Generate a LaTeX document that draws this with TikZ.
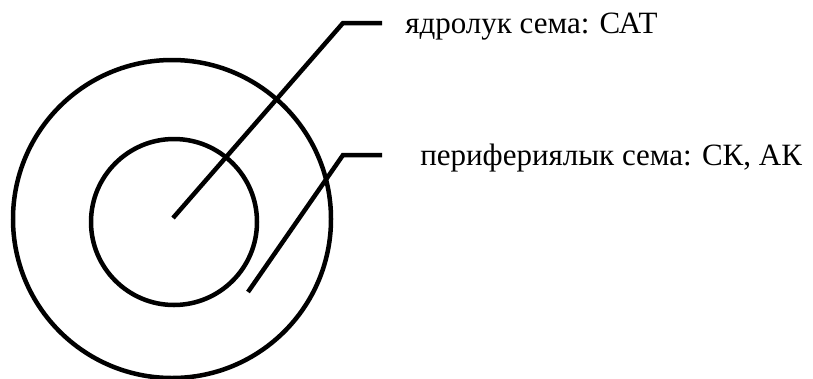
\documentclass[tikz,border=0pt]{standalone}
\usepackage{fontspec}
\setmainfont{Liberation Serif}
\tikzset{lbl/.style={anchor=base west, inner sep=0pt, font=\fontsize{31}{37}\selectfont}}
\begin{document}
\begin{tikzpicture}[x=1pt, y=-1pt, line width=4.5pt]
\useasboundingbox (0,0) rectangle (813,378);
\draw (172,219) circle (159pt);
\draw (174,222) circle (83pt);
\coordinate (core) at (173,218);
\coordinate (corebend) at (343,23);
\coordinate (coreend) at (382,23);
\coordinate (edge) at (248,292);
\coordinate (edgebend) at (343,155);
\coordinate (edgeend) at (382,155);
\draw (core) -- (corebend) -- (coreend);
\draw (edge) -- (edgebend) -- (edgeend);
\node[lbl] (coretext) at (403,33) {ядролук сема: САТ};
\node[lbl] (edgetext) at (418,165) {перифериялык сема: СК, АК};
\end{tikzpicture}
\end{document}
